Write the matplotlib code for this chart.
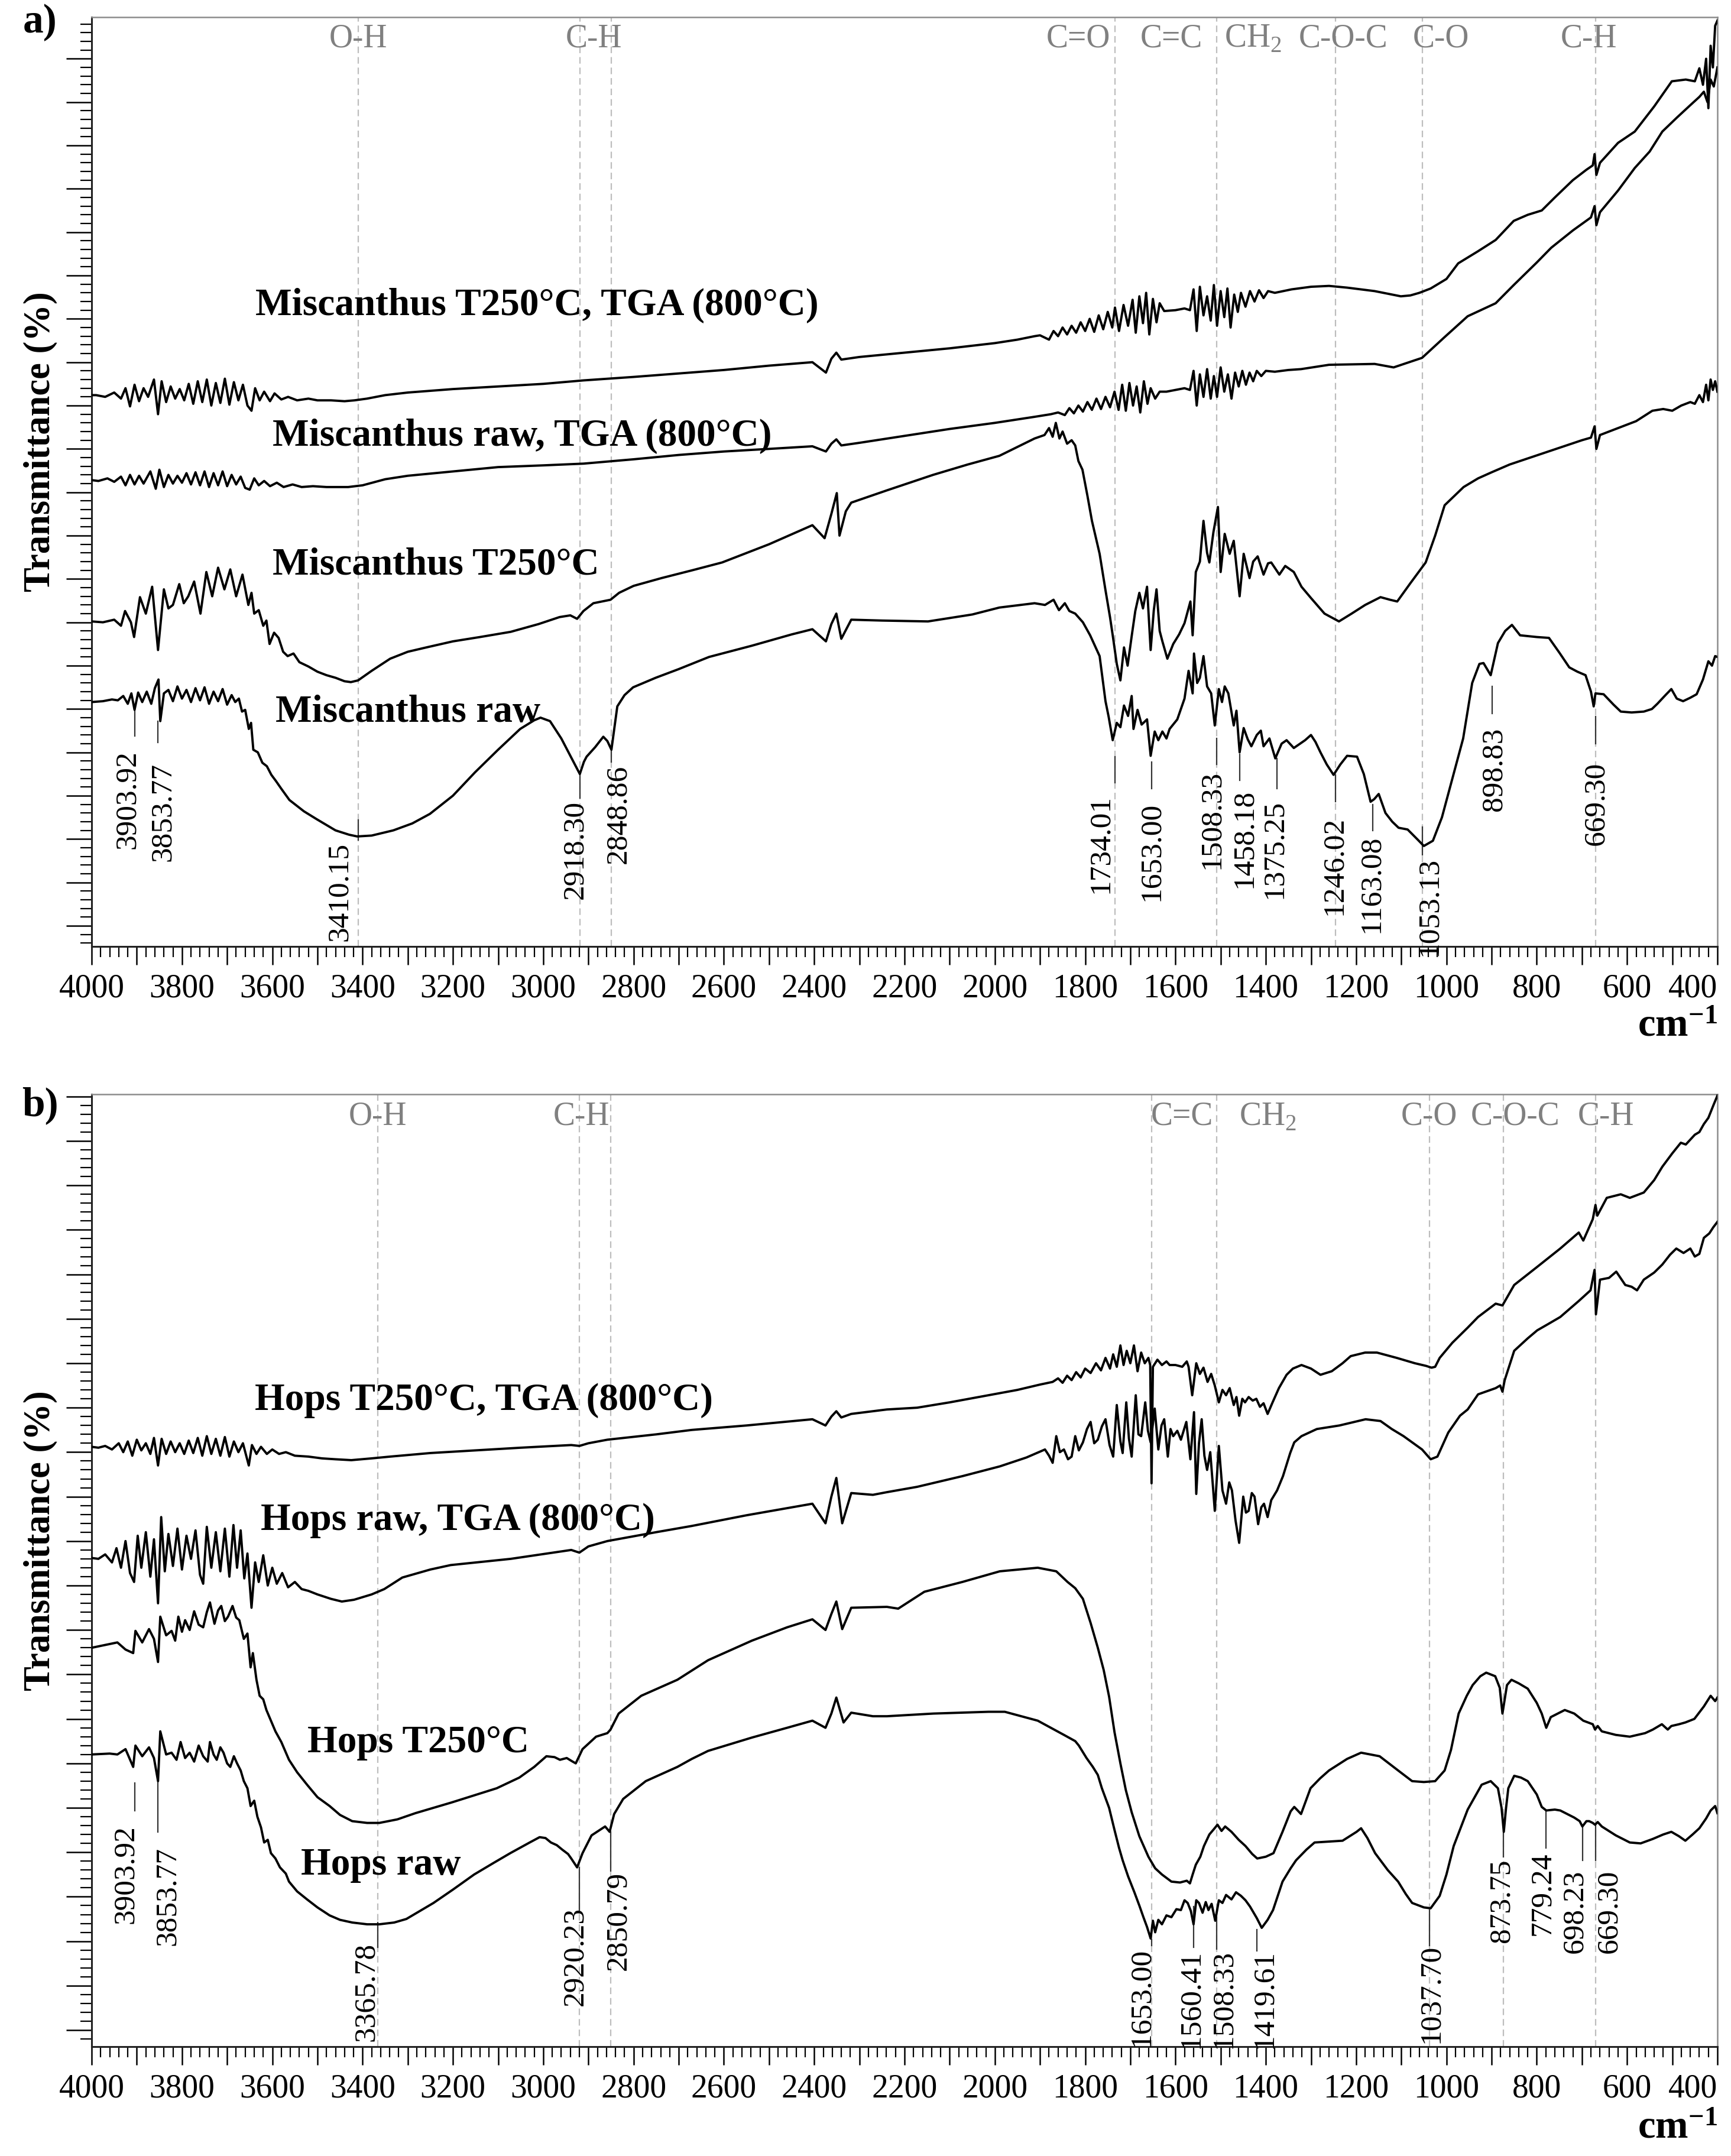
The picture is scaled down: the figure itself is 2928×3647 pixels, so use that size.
import matplotlib
matplotlib.use("Agg")
import matplotlib.pyplot as plt
from matplotlib.ticker import MultipleLocator

plt.rcParams['font.family'] = ['Liberation Serif', 'DejaVu Serif']
plt.rcParams['mathtext.fontset'] = 'custom'
plt.rcParams['mathtext.rm'] = 'Liberation Serif'
plt.rcParams['mathtext.bf'] = 'Liberation Serif:bold'

# ---------------- panel a: Miscanthus (wavenumber cm-1, transmittance a.u.) ----------------
mis_250_tga = [(4000, 61.2), (3990, 61.2), (3970, 61.0), (3950, 61.5), (3935, 60.8), (3925, 62.0), (3915, 59.9),
               (3905, 62.4), (3895, 60.5), (3885, 62.0), (3875, 61.0), (3862, 63.0), (3853, 59.0), (3845, 62.8),
               (3835, 60.4), (3825, 62.2), (3815, 60.8), (3805, 61.9), (3795, 60.6), (3785, 62.5), (3775, 60.2),
               (3765, 62.8), (3755, 60.4), (3745, 63.0), (3735, 60.0), (3725, 62.6), (3715, 60.3), (3705, 63.1),
               (3695, 60.1), (3685, 62.7), (3675, 60.6), (3665, 62.4), (3655, 60.0), (3646, 59.4), (3638, 62.0),
               (3628, 60.6), (3618, 61.6), (3605, 60.5), (3595, 61.4), (3580, 60.7), (3565, 61.0), (3545, 60.6),
               (3520, 60.8), (3500, 60.6), (3470, 60.6), (3440, 60.5), (3418, 60.6), (3390, 60.8), (3350, 61.2),
               (3300, 61.5), (3200, 61.9), (3000, 62.5), (2911, 62.9), (2800, 63.3), (2700, 63.7), (2600, 64.1),
               (2500, 64.6), (2404, 65.0), (2374, 63.8), (2362, 65.4), (2351, 66.1), (2340, 65.3), (2300, 65.6),
               (2200, 66.1), (2100, 66.6), (2000, 67.2), (1950, 67.6), (1912, 68.0), (1900, 68.1), (1880, 67.6),
               (1870, 68.6), (1860, 68.0), (1850, 69.0), (1840, 68.2), (1830, 69.2), (1820, 68.4), (1810, 69.6),
               (1800, 68.6), (1790, 70.0), (1780, 68.5), (1770, 70.4), (1760, 68.8), (1750, 70.8), (1740, 69.0),
               (1734, 71.3), (1725, 68.6), (1715, 71.6), (1705, 69.2), (1695, 72.2), (1688, 68.4), (1680, 72.6),
               (1672, 69.5), (1665, 73.0), (1658, 68.2), (1650, 72.3), (1642, 69.6), (1635, 71.8), (1625, 70.9),
               (1600, 71.0), (1580, 71.2), (1568, 71.0), (1560, 73.4), (1553, 68.6), (1546, 73.7), (1538, 70.4),
               (1530, 72.6), (1522, 69.8), (1515, 73.9), (1508, 69.2), (1500, 73.2), (1492, 70.2), (1485, 73.5),
               (1478, 69.0), (1470, 72.8), (1462, 70.8), (1455, 73.0), (1445, 71.4), (1435, 73.2), (1425, 72.0),
               (1415, 73.3), (1405, 72.4), (1395, 73.2), (1380, 73.0), (1343, 73.4), (1300, 73.7), (1260, 73.8),
               (1220, 73.6), (1159, 73.2), (1120, 72.8), (1101, 72.6), (1080, 72.7), (1060, 73.0), (1035, 73.5),
               (1000, 74.6), (974, 76.4), (930, 77.8), (891, 79.1), (851, 81.3), (820, 82.0), (789, 82.5),
               (760, 84.0), (720, 86.0), (690, 87.2), (676, 87.7), (672, 89.0), (668, 86.6), (660, 88.0),
               (620, 90.3), (583, 91.6), (540, 94.5), (501, 97.4), (470, 97.6), (450, 97.4), (440, 98.9),
               (432, 97.0), (425, 100.0), (420, 94.3), (415, 101.5), (410, 99.0), (405, 103.8), (400, 104.4)]

mis_raw_tga = [(4000, 51.4), (3985, 51.3), (3965, 51.6), (3950, 51.2), (3935, 51.8), (3925, 50.8), (3915, 52.0),
               (3905, 50.9), (3895, 51.9), (3885, 51.0), (3870, 52.4), (3858, 50.4), (3850, 52.6), (3840, 50.6),
               (3830, 52.0), (3820, 51.0), (3810, 51.9), (3800, 51.1), (3790, 52.2), (3780, 50.9), (3770, 52.3),
               (3760, 50.8), (3750, 52.4), (3740, 50.6), (3730, 52.2), (3720, 50.8), (3710, 52.4), (3700, 50.7),
               (3690, 52.0), (3680, 50.9), (3670, 51.8), (3660, 50.5), (3650, 50.3), (3640, 51.6), (3630, 50.8),
               (3618, 51.3), (3605, 50.7), (3590, 51.1), (3575, 50.6), (3555, 50.9), (3535, 50.6), (3510, 50.7),
               (3480, 50.6), (3450, 50.6), (3432, 50.6), (3400, 50.8), (3350, 51.5), (3300, 51.9), (3200, 52.4),
               (3100, 52.9), (3000, 53.1), (2911, 53.3), (2800, 53.8), (2700, 54.3), (2600, 54.7), (2500, 55.0),
               (2404, 55.3), (2374, 54.7), (2362, 55.6), (2351, 56.1), (2340, 55.4), (2300, 55.7), (2200, 56.5),
               (2100, 57.3), (2000, 58.0), (1912, 58.7), (1876, 59.0), (1860, 59.2), (1845, 58.9), (1835, 59.7),
               (1825, 59.1), (1815, 60.0), (1805, 59.3), (1795, 60.4), (1785, 59.5), (1775, 60.8), (1765, 59.6),
               (1755, 61.0), (1745, 59.8), (1735, 61.6), (1726, 59.5), (1718, 62.4), (1710, 59.4), (1702, 62.6),
               (1694, 60.0), (1686, 62.2), (1678, 59.2), (1670, 62.8), (1662, 60.2), (1655, 62.0), (1645, 60.8),
               (1635, 61.6), (1620, 61.6), (1600, 61.8), (1580, 62.0), (1568, 61.8), (1560, 64.0), (1553, 60.0),
               (1546, 63.6), (1538, 61.0), (1530, 64.2), (1522, 60.8), (1515, 63.4), (1508, 61.0), (1500, 64.4),
               (1492, 61.6), (1484, 63.6), (1476, 60.8), (1468, 63.8), (1460, 62.2), (1452, 64.0), (1444, 62.4),
               (1436, 63.8), (1428, 62.8), (1420, 64.0), (1410, 63.4), (1400, 64.0), (1380, 63.9), (1350, 64.1),
               (1322, 64.2), (1260, 64.7), (1159, 64.8), (1117, 64.4), (1054, 65.5), (1004, 67.9), (953, 70.3),
               (891, 71.8), (851, 73.9), (800, 76.5), (768, 78.2), (720, 80.2), (680, 81.7), (672, 83.0),
               (668, 80.8), (660, 82.3), (620, 84.8), (583, 87.4), (550, 89.3), (522, 91.6), (490, 93.2),
               (461, 94.6), (440, 95.6), (430, 96.2), (422, 95.0), (415, 97.6), (408, 96.8), (400, 99.0)]

mis_250 = [(4000, 35.1), (3975, 35.0), (3950, 35.3), (3935, 34.6), (3926, 36.3), (3913, 35.0), (3906, 33.3),
           (3893, 37.9), (3880, 36.0), (3866, 39.1), (3853, 31.8), (3840, 38.8), (3830, 36.6), (3820, 37.0),
           (3806, 39.4), (3796, 37.2), (3786, 38.0), (3773, 39.7), (3759, 36.0), (3746, 40.8), (3733, 38.0),
           (3720, 41.3), (3706, 38.8), (3693, 41.1), (3680, 38.0), (3666, 40.5), (3653, 37.0), (3646, 38.4),
           (3640, 36.0), (3630, 36.4), (3620, 34.6), (3613, 35.2), (3606, 32.5), (3596, 33.8), (3586, 33.2),
           (3576, 31.6), (3566, 31.1), (3553, 31.4), (3540, 30.4), (3520, 29.9), (3500, 29.3), (3480, 28.9),
           (3460, 28.6), (3440, 28.2), (3426, 28.1), (3410, 28.3), (3380, 29.4), (3339, 30.8), (3300, 31.6),
           (3259, 32.1), (3200, 32.8), (3140, 33.3), (3072, 33.9), (3010, 34.8), (2964, 35.6), (2940, 35.8),
           (2925, 35.4), (2911, 36.3), (2889, 37.2), (2860, 37.5), (2851, 37.6), (2832, 38.4), (2800, 39.2),
           (2738, 40.1), (2670, 41.0), (2604, 41.9), (2500, 44.0), (2404, 46.2), (2377, 44.7), (2362, 47.5),
           (2350, 49.9), (2344, 45.0), (2330, 47.8), (2318, 48.8), (2240, 50.2), (2137, 52.0), (2060, 53.2),
           (1990, 54.2), (1912, 56.2), (1890, 56.6), (1880, 57.4), (1872, 56.4), (1865, 58.0), (1857, 56.2),
           (1850, 57.0), (1840, 55.6), (1830, 56.0), (1822, 55.4), (1815, 53.6), (1806, 52.6), (1795, 49.6),
           (1785, 46.7), (1768, 42.9), (1755, 38.7), (1745, 35.6), (1739, 33.5), (1730, 30.2), (1722, 28.3),
           (1714, 32.1), (1706, 30.0), (1697, 33.4), (1689, 36.3), (1680, 38.4), (1672, 36.6), (1663, 39.1),
           (1655, 31.8), (1648, 36.4), (1642, 38.8), (1635, 34.0), (1629, 32.8), (1618, 30.8), (1605, 32.5),
           (1592, 33.6), (1580, 34.9), (1567, 37.4), (1562, 33.5), (1555, 40.8), (1546, 42.0), (1538, 46.7),
           (1530, 43.0), (1525, 41.9), (1516, 45.4), (1506, 48.3), (1500, 40.8), (1491, 45.2), (1480, 42.9),
           (1471, 44.4), (1458, 38.0), (1449, 42.9), (1436, 40.1), (1428, 42.0), (1418, 42.6), (1405, 40.5),
           (1395, 41.8), (1388, 41.9), (1370, 40.5), (1357, 41.5), (1338, 40.8), (1321, 39.1), (1300, 37.8),
           (1270, 36.0), (1238, 35.1), (1210, 36.0), (1180, 37.0), (1146, 37.9), (1125, 37.6), (1109, 37.4),
           (1080, 39.5), (1046, 41.9), (1025, 45.0), (1004, 48.5), (962, 50.6), (930, 51.6), (900, 52.3),
           (860, 53.2), (820, 53.9), (780, 54.6), (740, 55.3), (700, 56.0), (680, 56.3), (672, 57.6),
           (668, 55.0), (660, 56.6), (620, 57.4), (580, 58.2), (544, 59.4), (520, 59.6), (500, 59.4),
           (480, 60.0), (460, 60.4), (450, 60.2), (440, 61.2), (432, 60.4), (425, 62.4), (420, 60.6),
           (415, 63.0), (410, 61.8), (405, 62.8), (400, 61.6)]

mis_raw = [(4000, 25.8), (3975, 25.9), (3955, 26.1), (3942, 26.0), (3930, 26.5), (3920, 25.6), (3912, 26.8),
           (3905, 24.9), (3897, 26.9), (3888, 25.8), (3878, 27.0), (3868, 25.6), (3860, 27.4), (3852, 28.4),
           (3848, 23.6), (3840, 26.8), (3830, 27.2), (3820, 25.9), (3810, 27.6), (3800, 26.2), (3790, 27.2),
           (3780, 25.8), (3770, 27.4), (3760, 26.0), (3750, 27.5), (3740, 25.6), (3730, 27.0), (3720, 25.9),
           (3710, 27.3), (3700, 25.5), (3690, 26.6), (3682, 25.8), (3674, 26.2), (3667, 24.7), (3660, 24.9),
           (3652, 22.7), (3647, 23.4), (3642, 20.3), (3632, 20.0), (3622, 18.8), (3612, 18.4), (3602, 17.4),
           (3592, 16.7), (3580, 15.8), (3562, 14.5), (3530, 13.2), (3502, 12.3), (3460, 11.0), (3430, 10.5),
           (3412, 10.3), (3380, 10.4), (3332, 11.0), (3290, 11.8), (3251, 12.9), (3200, 15.0), (3151, 17.7),
           (3100, 20.3), (3051, 22.7), (3020, 23.7), (3006, 24.0), (2985, 23.6), (2960, 21.6), (2940, 19.6),
           (2919, 17.5), (2910, 18.9), (2904, 19.5), (2885, 20.6), (2867, 21.8), (2858, 21.3), (2849, 20.3),
           (2836, 25.3), (2820, 26.6), (2801, 27.5), (2751, 28.6), (2700, 29.6), (2633, 31.0), (2538, 32.3),
           (2450, 33.6), (2404, 34.2), (2374, 32.8), (2362, 34.8), (2351, 36.0), (2340, 33.1), (2318, 35.3),
           (2250, 35.2), (2148, 35.1), (2050, 35.9), (1990, 36.7), (1912, 37.2), (1889, 37.0), (1870, 37.6),
           (1858, 36.4), (1845, 37.2), (1835, 36.3), (1822, 36.0), (1805, 35.0), (1789, 33.5), (1768, 31.1),
           (1755, 25.9), (1748, 24.1), (1739, 21.4), (1730, 23.4), (1722, 22.9), (1714, 25.4), (1705, 24.2),
           (1697, 26.5), (1693, 22.7), (1684, 24.9), (1675, 23.2), (1663, 23.8), (1655, 19.6), (1646, 22.4),
           (1638, 21.4), (1629, 22.4), (1620, 21.6), (1613, 22.7), (1596, 23.8), (1580, 26.2), (1571, 29.4),
           (1562, 26.8), (1559, 31.4), (1552, 28.0), (1546, 28.6), (1538, 31.1), (1530, 27.6), (1521, 26.8),
           (1513, 23.1), (1504, 27.3), (1497, 25.8), (1491, 27.6), (1483, 26.8), (1471, 23.1), (1465, 24.8),
           (1458, 20.0), (1449, 22.8), (1440, 21.5), (1432, 20.7), (1420, 22.0), (1411, 22.5), (1405, 20.7),
           (1392, 21.6), (1379, 19.3), (1365, 21.0), (1354, 21.4), (1338, 20.5), (1313, 21.4), (1300, 22.0),
           (1290, 21.2), (1279, 20.0), (1265, 18.6), (1250, 17.4), (1235, 18.6), (1220, 19.6), (1198, 19.5),
           (1183, 17.5), (1168, 14.3), (1160, 14.6), (1150, 15.2), (1135, 13.0), (1120, 12.0), (1106, 11.3),
           (1086, 11.1), (1065, 10.0), (1050, 9.2), (1030, 9.8), (1010, 12.5), (994, 15.6), (963, 21.6),
           (943, 28.0), (927, 30.2), (918, 30.3), (902, 28.9), (886, 32.6), (870, 34.0), (855, 34.7),
           (837, 33.5), (800, 33.3), (773, 33.2), (750, 31.5), (728, 29.8), (710, 29.3), (692, 28.9),
           (680, 27.0), (674, 25.3), (670, 26.8), (652, 26.7), (630, 25.5), (614, 24.7), (590, 24.6),
           (563, 24.7), (545, 25.0), (533, 25.6), (515, 26.6), (502, 27.3), (490, 26.2), (476, 25.9),
           (460, 26.3), (446, 26.7), (432, 28.4), (420, 30.5), (412, 30.0), (405, 31.1), (400, 31.0)]

a_names = ['Miscanthus T250°C, TGA (800°C)', 'Miscanthus raw, TGA (800°C)', 'Miscanthus T250°C', 'Miscanthus raw']
a_name_pos = [(3637, 71.6), (3599, 56.5), (3599, 41.7), (3593, 24.7)]
a_dashed = [3410.15, 2918.30, 2848.86, 1734.01, 1508.33, 1246.02, 1053.13, 669.30]
a_groups = ['O-H', 'C-H', 'C=O', 'C=C', 'CH$_2$', 'C-O-C', 'C-O', 'C-H']
a_group_x = [3410, 2888, 1815, 1609, 1428, 1229, 1012, 685]
a_peaks = ['3903.92', '3853.77', '3410.15', '2918.30', '2848.86', '1734.01', '1653.00', '1508.33',
           '1458.18', '1375.25', '1246.02', '1163.08', '1053.13', '898.83', '669.30']
a_lead_top = [24.9, 23.6, 12.2, 17.5, 20.3, 19.5, 18.9, 21.6, 19.8, 19.3, 17.4, 14.0, 11.4, 27.6, 24.1]
a_lead_bot = [21.9, 21.1, 9.9, 14.7, 18.9, 16.5, 15.8, 18.6, 16.8, 15.8, 14.3, 11.0, 8.2, 24.5, 21.0]
a_text_x = [3920, 3842, 3450, 2929, 2834, 1766, 1653, 1519, 1448, 1381, 1248, 1166, 1038, 894, 669]
a_text_top = [20.3, 18.9, 9.7, 14.5, 18.6, 15.2, 14.3, 18.0, 15.8, 14.6, 12.7, 10.5, 8.0, 22.9, 19.0]

# ---------------- panel b: Hops ----------------
hops_250_tga = [(4000, 65.6), (3985, 65.5), (3970, 65.7), (3955, 65.3), (3940, 66.0), (3930, 65.0), (3920, 66.2),
                (3910, 64.6), (3900, 66.4), (3890, 65.2), (3880, 66.0), (3870, 64.8), (3862, 66.6), (3853, 63.5),
                (3845, 66.5), (3835, 64.8), (3825, 66.2), (3815, 65.0), (3805, 66.0), (3795, 64.8), (3785, 66.3),
                (3775, 64.9), (3765, 66.6), (3755, 64.6), (3745, 66.8), (3735, 64.8), (3725, 66.5), (3715, 64.6),
                (3705, 66.7), (3695, 64.5), (3685, 66.2), (3675, 65.0), (3665, 66.0), (3652, 63.5), (3645, 65.8),
                (3635, 64.8), (3625, 65.6), (3612, 64.8), (3600, 65.3), (3585, 64.8), (3570, 65.0), (3550, 64.6),
                (3520, 64.5), (3490, 64.3), (3460, 64.2), (3425, 64.1), (3380, 64.3), (3339, 64.5), (3250, 64.9),
                (3150, 65.2), (3050, 65.5), (2938, 65.8), (2920, 65.7), (2900, 66.0), (2858, 66.4), (2750, 67.0),
                (2671, 67.5), (2550, 68.0), (2404, 68.7), (2375, 68.0), (2362, 69.0), (2351, 69.6), (2340, 68.9),
                (2318, 69.3), (2239, 69.8), (2172, 70.0), (2100, 70.6), (2014, 71.4), (1950, 72.0), (1900, 72.6),
                (1872, 72.9), (1860, 73.3), (1850, 72.8), (1840, 73.6), (1830, 73.1), (1820, 74.0), (1810, 73.4),
                (1800, 74.4), (1788, 73.9), (1776, 75.0), (1765, 74.2), (1755, 75.6), (1745, 74.4), (1738, 76.0),
                (1730, 74.6), (1722, 77.0), (1715, 74.8), (1708, 76.4), (1700, 75.0), (1692, 77.0), (1684, 74.1),
                (1676, 76.2), (1668, 75.0), (1660, 75.6), (1656, 74.8), (1653, 61.5), (1650, 74.6), (1640, 75.4),
                (1630, 74.8), (1620, 75.2), (1613, 74.8), (1600, 74.8), (1585, 74.6), (1575, 75.2), (1571, 74.6),
                (1563, 71.4), (1554, 75.0), (1546, 73.8), (1538, 74.5), (1529, 72.9), (1521, 73.8), (1513, 72.5),
                (1504, 70.6), (1496, 72.0), (1488, 71.4), (1480, 72.2), (1471, 70.3), (1465, 71.2), (1459, 69.1),
                (1452, 71.0), (1446, 70.6), (1438, 71.2), (1429, 70.8), (1421, 71.0), (1413, 70.1), (1405, 70.5),
                (1396, 69.3), (1385, 70.6), (1371, 72.2), (1354, 73.7), (1340, 74.4), (1321, 74.8), (1300, 74.4),
                (1279, 73.7), (1254, 74.1), (1230, 75.0), (1212, 75.8), (1180, 76.2), (1154, 76.2), (1110, 75.6),
                (1070, 75.0), (1045, 74.7), (1033, 74.5), (1025, 74.6), (1015, 75.6), (987, 77.3), (953, 79.0),
                (930, 80.2), (891, 81.7), (876, 81.5), (850, 83.8), (800, 85.8), (748, 87.9), (707, 89.7),
                (697, 88.8), (676, 91.2), (670, 92.8), (666, 91.6), (645, 93.6), (614, 94.0), (594, 93.6),
                (563, 94.2), (540, 95.6), (522, 97.1), (500, 98.6), (481, 99.8), (470, 99.6), (450, 100.7),
                (440, 101.0), (430, 101.9), (420, 102.6), (409, 104.0), (400, 105.1)]

hops_raw_tga = [(4000, 53.1), (3985, 53.0), (3970, 53.5), (3955, 52.6), (3945, 54.2), (3935, 52.0), (3925, 55.0),
                (3915, 51.4), (3906, 50.4), (3898, 55.6), (3890, 52.0), (3880, 56.0), (3870, 51.0), (3862, 55.2),
                (3853, 48.0), (3846, 57.7), (3838, 51.6), (3830, 55.8), (3820, 52.2), (3810, 56.4), (3800, 51.8),
                (3790, 55.6), (3780, 53.0), (3770, 56.2), (3760, 51.2), (3753, 50.2), (3745, 56.6), (3735, 52.0),
                (3725, 56.0), (3715, 51.6), (3705, 56.4), (3695, 51.0), (3686, 56.8), (3678, 52.0), (3670, 56.2),
                (3662, 50.8), (3655, 53.6), (3646, 47.5), (3638, 52.6), (3630, 50.4), (3620, 53.4), (3610, 50.0),
                (3600, 52.0), (3590, 50.2), (3578, 51.4), (3565, 49.8), (3550, 50.4), (3535, 49.6), (3520, 49.4),
                (3500, 49.0), (3470, 48.5), (3446, 48.2), (3419, 48.4), (3380, 49.0), (3352, 49.6), (3312, 50.9),
                (3250, 51.8), (3205, 52.3), (3072, 53.0), (2938, 54.0), (2920, 53.7), (2900, 54.4), (2858, 55.0),
                (2750, 56.0), (2671, 56.7), (2550, 57.9), (2404, 59.2), (2375, 57.0), (2362, 60.0), (2351, 62.1),
                (2338, 57.0), (2318, 60.4), (2270, 60.2), (2239, 60.5), (2172, 61.1), (2072, 62.3), (1989, 63.4),
                (1930, 64.4), (1889, 65.3), (1880, 64.6), (1872, 63.8), (1864, 66.8), (1856, 65.0), (1847, 65.3),
                (1838, 64.2), (1830, 64.5), (1822, 66.8), (1814, 65.2), (1805, 66.1), (1796, 67.6), (1788, 68.4),
                (1780, 66.0), (1772, 66.4), (1763, 67.9), (1755, 68.7), (1746, 65.8), (1738, 64.5), (1730, 70.3),
                (1722, 66.2), (1717, 64.9), (1709, 70.6), (1703, 66.5), (1697, 64.5), (1688, 71.4), (1682, 67.0),
                (1676, 66.8), (1667, 70.6), (1661, 67.4), (1655, 66.1), (1646, 69.9), (1638, 65.3), (1631, 68.0),
                (1625, 68.7), (1617, 64.5), (1611, 67.6), (1605, 66.8), (1596, 67.4), (1588, 66.4), (1576, 68.4),
                (1567, 64.2), (1559, 69.5), (1554, 60.3), (1548, 66.0), (1542, 68.7), (1536, 64.6), (1530, 63.0),
                (1523, 65.0), (1517, 61.1), (1513, 58.4), (1504, 65.7), (1496, 60.7), (1488, 59.2), (1481, 61.6),
                (1475, 60.7), (1467, 57.3), (1459, 54.8), (1450, 60.0), (1444, 58.2), (1438, 58.4), (1431, 60.4),
                (1425, 60.0), (1417, 56.9), (1410, 58.8), (1404, 59.2), (1396, 57.7), (1388, 59.6), (1375, 60.7),
                (1362, 62.3), (1346, 64.9), (1337, 66.1), (1321, 66.8), (1287, 67.6), (1237, 68.0), (1179, 68.7),
                (1146, 68.5), (1121, 67.6), (1095, 66.8), (1054, 65.3), (1035, 64.2), (1020, 64.5), (996, 67.2),
                (970, 69.1), (953, 69.8), (930, 71.5), (891, 72.2), (881, 72.5), (876, 71.8), (871, 73.1),
                (850, 76.4), (820, 77.8), (799, 78.7), (775, 79.4), (748, 80.2), (707, 82.0), (681, 83.2),
                (672, 85.5), (669, 80.5), (660, 84.4), (640, 84.6), (624, 85.3), (604, 83.8), (590, 83.6),
                (578, 83.2), (563, 84.4), (540, 85.2), (522, 86.1), (505, 87.2), (491, 87.9), (475, 87.4),
                (460, 87.9), (450, 87.0), (440, 87.3), (430, 89.1), (418, 89.6), (409, 90.3), (400, 90.9)]

hops_250 = [(4000, 43.0), (3943, 43.6), (3925, 42.8), (3908, 42.4), (3903, 44.9), (3888, 43.6), (3873, 45.1),
            (3862, 44.0), (3853, 41.4), (3848, 46.5), (3835, 44.4), (3823, 44.9), (3815, 43.8), (3808, 46.5),
            (3800, 44.8), (3793, 46.1), (3783, 45.0), (3773, 47.1), (3763, 45.6), (3753, 45.3), (3745, 47.0),
            (3738, 48.1), (3728, 45.7), (3720, 47.2), (3713, 47.7), (3705, 46.0), (3698, 46.5), (3688, 47.7),
            (3680, 46.4), (3673, 46.1), (3663, 44.0), (3655, 44.6), (3648, 40.8), (3643, 42.4), (3635, 39.4),
            (3628, 37.6), (3620, 37.2), (3613, 36.0), (3603, 34.8), (3593, 33.6), (3580, 32.4), (3563, 30.4),
            (3545, 29.0), (3523, 27.6), (3500, 26.2), (3473, 25.2), (3450, 24.2), (3423, 23.5), (3390, 23.3),
            (3363, 23.3), (3323, 23.7), (3283, 24.4), (3203, 25.6), (3103, 27.2), (3053, 28.4), (3020, 29.6),
            (2993, 30.8), (2975, 30.7), (2963, 30.4), (2948, 30.6), (2935, 30.2), (2928, 30.0), (2913, 31.6),
            (2883, 33.0), (2858, 33.4), (2851, 33.8), (2833, 35.6), (2783, 37.6), (2703, 39.4), (2635, 41.6),
            (2538, 43.8), (2460, 45.3), (2404, 46.2), (2375, 45.0), (2362, 46.8), (2351, 48.2), (2338, 45.1),
            (2318, 47.5), (2239, 47.6), (2214, 47.4), (2156, 49.3), (2072, 50.4), (1989, 51.6), (1905, 52.0),
            (1864, 51.6), (1839, 50.4), (1822, 49.7), (1805, 48.5), (1788, 45.8), (1772, 43.0), (1759, 40.5),
            (1747, 37.5), (1735, 33.5), (1722, 30.0), (1710, 27.0), (1697, 24.5), (1680, 21.8), (1660, 19.5),
            (1645, 18.2), (1630, 17.5), (1609, 16.7), (1590, 16.6), (1575, 16.8), (1568, 16.5), (1562, 17.5),
            (1555, 18.6), (1545, 19.5), (1537, 20.7), (1525, 22.0), (1515, 22.6), (1507, 23.1), (1498, 22.4),
            (1490, 22.9), (1476, 22.3), (1460, 21.4), (1445, 20.7), (1430, 19.8), (1419, 19.3), (1400, 19.5),
            (1383, 19.9), (1363, 22.3), (1345, 24.6), (1337, 25.1), (1322, 24.3), (1301, 27.2), (1280, 28.3),
            (1260, 29.2), (1220, 30.5), (1189, 31.2), (1148, 30.8), (1107, 29.2), (1076, 28.0), (1050, 27.9),
            (1025, 28.0), (1004, 29.2), (990, 31.5), (973, 35.6), (955, 37.6), (942, 38.8), (925, 39.8),
            (912, 40.2), (892, 39.8), (882, 38.5), (876, 35.6), (870, 37.5), (866, 38.8), (856, 39.4),
            (840, 39.0), (820, 38.4), (800, 36.8), (789, 35.6), (779, 34.0), (769, 35.2), (738, 36.0),
            (717, 35.6), (697, 34.8), (676, 34.4), (671, 33.8), (665, 34.2), (656, 33.6), (625, 33.2),
            (594, 33.0), (560, 33.4), (543, 33.8), (523, 34.4), (510, 33.8), (502, 34.2), (485, 34.4),
            (471, 34.6), (451, 35.0), (430, 36.4), (415, 37.6), (405, 37.0), (400, 37.4)]

hops_raw = [(4000, 31.0), (3960, 31.1), (3943, 31.0), (3925, 31.6), (3908, 29.6), (3903, 32.0), (3888, 30.8),
            (3873, 31.8), (3862, 30.6), (3853, 28.0), (3848, 33.6), (3835, 31.0), (3823, 31.2), (3812, 30.4),
            (3803, 32.4), (3793, 30.6), (3783, 31.2), (3773, 30.2), (3763, 32.0), (3753, 30.8), (3743, 30.2),
            (3738, 32.4), (3730, 31.0), (3723, 30.4), (3715, 31.8), (3708, 31.2), (3700, 30.0), (3693, 29.6),
            (3685, 30.8), (3678, 30.0), (3670, 29.2), (3663, 28.0), (3655, 27.2), (3648, 25.2), (3640, 25.8),
            (3633, 24.0), (3625, 22.8), (3618, 21.1), (3610, 21.4), (3603, 19.9), (3593, 19.3), (3583, 18.3),
            (3570, 17.6), (3563, 16.7), (3545, 15.6), (3523, 14.7), (3500, 13.8), (3473, 12.9), (3450, 12.4),
            (3423, 12.1), (3390, 11.9), (3363, 11.9), (3330, 12.1), (3303, 12.5), (3243, 14.3), (3200, 15.8),
            (3153, 17.5), (3110, 18.8), (3073, 19.9), (3030, 21.1), (3008, 21.7), (2995, 21.6), (2983, 21.1),
            (2970, 20.8), (2958, 20.3), (2945, 19.8), (2938, 19.3), (2925, 18.3), (2913, 19.9), (2893, 21.9),
            (2863, 22.9), (2853, 22.3), (2843, 24.3), (2823, 26.0), (2773, 28.0), (2703, 29.6), (2671, 30.5),
            (2635, 31.4), (2538, 32.9), (2460, 34.0), (2404, 34.8), (2375, 34.0), (2362, 35.6), (2351, 37.4),
            (2335, 34.6), (2318, 35.7), (2270, 35.3), (2239, 35.3), (2136, 35.6), (2014, 35.8), (1978, 35.8),
            (1905, 34.8), (1876, 34.0), (1847, 33.2), (1822, 32.5), (1814, 32.0), (1797, 30.6), (1783, 29.6),
            (1772, 28.7), (1763, 27.2), (1747, 25.0), (1735, 22.5), (1725, 20.5), (1717, 19.1), (1705, 17.3),
            (1691, 15.5), (1680, 14.0), (1671, 12.7), (1663, 11.6), (1655, 10.3), (1650, 12.3), (1645, 11.0),
            (1638, 12.4), (1630, 11.9), (1620, 12.9), (1609, 12.7), (1598, 13.6), (1588, 13.5), (1580, 14.6),
            (1573, 14.3), (1566, 13.4), (1560, 11.9), (1554, 14.6), (1548, 14.3), (1540, 13.2), (1533, 14.4),
            (1527, 13.5), (1520, 14.2), (1512, 12.3), (1504, 14.6), (1496, 14.3), (1488, 15.2), (1476, 14.7),
            (1466, 15.5), (1455, 15.1), (1445, 14.6), (1435, 13.9), (1420, 12.6), (1409, 11.5), (1396, 12.4),
            (1384, 13.5), (1363, 16.7), (1345, 18.2), (1333, 19.1), (1310, 20.3), (1292, 21.1), (1260, 21.2),
            (1230, 21.3), (1199, 22.3), (1189, 22.7), (1175, 21.6), (1158, 19.9), (1130, 18.0), (1107, 16.7),
            (1090, 15.3), (1076, 14.3), (1050, 13.8), (1035, 13.7), (1015, 15.1), (1000, 17.5), (984, 20.7),
            (953, 24.8), (922, 27.6), (902, 28.0), (886, 27.2), (878, 25.0), (873, 22.3), (868, 25.0),
            (863, 27.2), (850, 28.6), (835, 28.4), (820, 28.0), (800, 26.5), (789, 25.1), (779, 24.7),
            (760, 24.8), (748, 24.7), (717, 23.9), (705, 23.5), (699, 22.9), (690, 23.5), (684, 23.5),
            (676, 23.3), (671, 23.1), (665, 23.4), (656, 22.9), (625, 21.9), (594, 21.1), (570, 21.0),
            (543, 21.5), (520, 22.0), (502, 22.3), (485, 21.8), (471, 21.3), (455, 22.0), (440, 22.7),
            (425, 23.8), (415, 24.7), (405, 25.2), (400, 24.4)]

b_names = ['Hops T250°C, TGA (800°C)', 'Hops raw, TGA (800°C)', 'Hops T250°C', 'Hops raw']
b_name_pos = [(3639, 70.9), (3626, 57.4), (3522, 32.4), (3537, 18.6)]
b_dashed = [3365.78, 2920.23, 2850.79, 1653.00, 1508.33, 1037.70, 873.75, 669.30]
b_groups = ['O-H', 'C-H', 'C=C', 'CH$_2$', 'C-O', 'C-O-C', 'C-H']
b_group_x = [3366, 2915, 1586, 1396, 1038, 847, 647]
b_peaks = ['3903.92', '3853.77', '3365.78', '2920.23', '2850.79', '1653.00', '1560.41', '1508.33',
           '1419.61', '1037.70', '873.75', '779.24', '698.23', '669.30']
b_lead_top = [27.8, 28.0, 12.1, 18.3, 22.3, 10.2, 13.9, 12.7, 11.3, 13.5, 22.3, 24.7, 23.1, 23.1]
b_lead_bot = [24.7, 22.3, 9.3, 13.5, 17.9, 9.5, 9.3, 9.1, 8.9, 9.5, 19.5, 20.5, 19.1, 19.1]
b_text_x = [3925, 3832, 3392, 2929, 2834, 1675, 1565, 1494, 1403, 1034, 878, 788, 715, 640]
b_text_top = [23.1, 20.7, 9.9, 13.9, 17.9, 9.3, 9.1, 9.1, 9.1, 9.7, 19.3, 20.1, 18.1, 18.1]

x_major = list(range(4000, 399, -100))


def draw_panel(ax, curves, names, name_pos, dashed, groups, group_x, group_y,
               peaks, lead_top, lead_bot, text_x, text_top, ylim):
    for wn in dashed:
        ax.axvline(wn, color='#bdbdbd', lw=1.6, ls=(0, (5, 3)), zorder=1)
    for c in curves:
        ax.plot([p[0] for p in c], [p[1] for p in c], color='black', lw=2.8, zorder=3)
    for name, (x, y) in zip(names, name_pos):
        ax.text(x, y, name, fontsize=47, fontweight='bold', ha='left', va='center', zorder=5)
    for g, x in zip(groups, group_x):
        ax.text(x, group_y, g, fontsize=40, color='#808080', ha='center', va='center', zorder=5)
    for lab, t, b, tx, tt in zip(peaks, lead_top, lead_bot, text_x, text_top):
        wn = float(lab)
        ax.plot([wn, wn], [t, b], color='#333333', lw=1.6, zorder=2)
        ax.text(tx, tt, lab, rotation=90, fontsize=37, ha='center', va='top', zorder=5)

    ax.set_xlim(4000, 400)
    ax.set_ylim(*ylim)
    ax.set_xticks(x_major)
    ax.set_xticklabels([str(v) if v % 200 == 0 else '' for v in x_major])
    ax.xaxis.set_minor_locator(MultipleLocator(20))
    ax.yaxis.set_major_locator(MultipleLocator(5))
    ax.yaxis.set_minor_locator(MultipleLocator(1))
    ax.tick_params(axis='x', which='major', direction='out', length=22, width=1.8, labelsize=40, pad=10)
    ax.tick_params(axis='x', which='minor', direction='out', length=13, width=1.6)
    ax.tick_params(axis='y', which='major', direction='out', length=31, width=1.8, labelleft=False)
    ax.tick_params(axis='y', which='minor', direction='out', length=14, width=1.6)
    ax.tick_params(top=False, right=False)
    # keep the last label (400) inside the figure
    ax.get_xticklabels()[-1].set_horizontalalignment('right')
    for s in ['left', 'bottom']:
        ax.spines[s].set_linewidth(2.2)
        ax.spines[s].set_color('#222222')
    for s in ['top', 'right']:
        ax.spines[s].set_linewidth(1.8)
        ax.spines[s].set_color('#8c8c8c')
    ax.text(1.0, -0.085, r'$\mathbf{cm^{-1}}$', transform=ax.transAxes, fontsize=48,
            ha='right', va='center')


fig = plt.figure(figsize=(29.28, 36.48), dpi=100)
ax_a = fig.add_axes([0.05294, 0.56086, 0.93921, 0.43092])
ax_b = fig.add_axes([0.05294, 0.05071, 0.93921, 0.44161])

draw_panel(ax_a, [mis_250_tga, mis_raw_tga, mis_250, mis_raw], a_names, a_name_pos, a_dashed,
           a_groups, a_group_x, 102.4, a_peaks, a_lead_top, a_lead_bot, a_text_x, a_text_top, (-2.39, 104.8))
draw_panel(ax_b, [hops_250_tga, hops_raw_tga, hops_250, hops_raw], b_names, b_name_pos, b_dashed,
           b_groups, b_group_x, 102.8, b_peaks, b_lead_top, b_lead_bot, b_text_x, b_text_top, (-1.86, 105.25))

fig.text(0.0234, 0.7952, 'Transmittance (%)', rotation=90, fontsize=45, fontweight='bold',
         ha='center', va='center')
fig.text(0.0234, 0.2856, 'Transmittance (%)', rotation=90, fontsize=45, fontweight='bold',
         ha='center', va='center')
fig.text(0.0232, 0.9896, 'a)', fontsize=50, fontweight='bold', ha='center', va='center')
fig.text(0.0232, 0.4874, 'b)', fontsize=50, fontweight='bold', ha='center', va='center')

fig.savefig('out.png', dpi=100)
